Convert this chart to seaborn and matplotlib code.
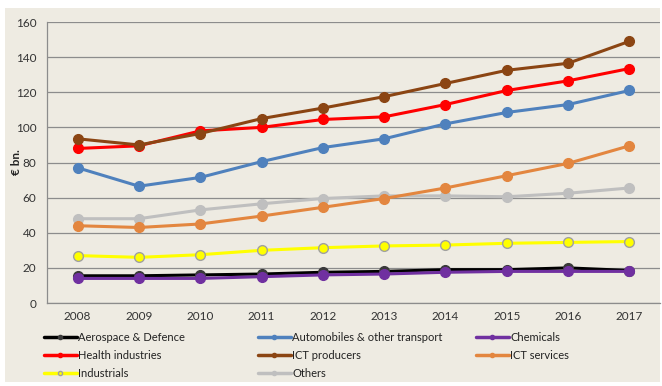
import matplotlib
matplotlib.use("Agg")
import matplotlib.pyplot as plt
import seaborn as sns
import pandas as pd
from matplotlib.lines import Line2D
from matplotlib.patches import Rectangle

years = ["2008", "2009", "2010", "2011", "2012", "2013", "2014", "2015", "2016", "2017"]
aerospace = [15.5, 15.5, 16, 16.5, 17.5, 18, 19, 19, 20, 18.5]
automobiles = [77, 66.5, 71.5, 80.5, 88.5, 93.5, 102, 108.5, 113, 121]
chemicals = [14, 14, 14, 15, 16, 16.5, 17.5, 18, 18, 18]
health = [88, 89.5, 98, 100, 104.5, 106, 113, 121, 126.5, 133.5]
ict_producers = [93.5, 90, 96.5, 105, 111, 117.5, 125, 132.5, 136.5, 149]
ict_services = [44, 43, 45, 49.5, 54.5, 59.5, 65.5, 72.5, 79.5, 89.5]
industrials = [27, 26, 27.5, 30, 31.5, 32.5, 33, 34, 34.5, 35]
others = [48, 48, 53, 56.5, 59.5, 61, 61, 60.5, 62.5, 65.5]

series = [
    ("Aerospace & Defence", aerospace, "#000000", "#3a3a3a"),
    ("Automobiles & other transport", automobiles, "#4f81bd", "#4f81bd"),
    ("Chemicals", chemicals, "#7030a0", "#7030a0"),
    ("Health industries", health, "#ff0000", "#ff0000"),
    ("ICT producers", ict_producers, "#8b4513", "#8b4513"),
    ("ICT services", ict_services, "#e3863f", "#e3863f"),
    ("Industrials", industrials, "#ffff00", "#ffff00"),
    ("Others", others, "#bfbfbf", "#bfbfbf"),
]
edge = {"Industrials": "#a0a0a0"}

bg = "#eeebe2"
sns.set_theme(style="white")
plt.rcParams["font.family"] = ["Lato", "DejaVu Sans"]

fig = plt.figure(figsize=(6.62, 3.86), dpi=100, facecolor="white")
fig.add_artist(Rectangle((5 / 662, 4 / 386), 655 / 662, 374 / 386,
                         transform=fig.transFigure, facecolor=bg,
                         edgecolor="none", zorder=-10))
ax = fig.add_axes([0.071, 0.215, 0.926, 0.728])
ax.set_facecolor(bg)

x = list(range(len(years)))
handles = {}
order = ["Others", "ICT services", "Industrials", "Automobiles & other transport",
         "Health industries", "ICT producers", "Aerospace & Defence", "Chemicals"]
sdict = {s[0]: s for s in series}
for name in order:
    _, vals, lc, mc = sdict[name]
    df = pd.DataFrame({"x": x, "y": vals})
    sns.lineplot(data=df, x="x", y="y", ax=ax, color=lc, linewidth=2.2,
                 marker="o", markersize=7, markerfacecolor=mc,
                 markeredgecolor=edge.get(name, mc), markeredgewidth=1.0,
                 zorder=3)

for name, vals, lc, mc in series:
    handles[name] = Line2D([0], [0], color=lc, linewidth=2.5, marker="o",
                           markersize=3, markerfacecolor=mc,
                           markeredgecolor=edge.get(name, mc))

ax.set_xlim(-0.5, 9.5)
ax.set_ylim(0, 160)
ax.set_yticks(range(0, 161, 20))
ax.set_xticks(x)
ax.set_xticklabels(years)
ax.set_xticks([i + 0.5 for i in range(-1, 10)], minor=True)
ax.tick_params(axis="x", which="major", length=0, labelsize=8.5, colors="#333333", pad=6)
ax.tick_params(axis="x", which="minor", length=4, color="#8c8c8c", direction="out", width=0.8)
ax.tick_params(axis="y", labelsize=8.5, colors="#333333", length=4, color="#8c8c8c", width=0.8)
ax.grid(axis="y", color="#8c8c8c", linewidth=0.9, zorder=0)
ax.set_axisbelow(True)
for s in ["top", "right"]:
    ax.spines[s].set_visible(False)
for s in ["left", "bottom"]:
    ax.spines[s].set_color("#8c8c8c")
    ax.spines[s].set_linewidth(0.9)
ax.set_xlabel("")
ax.set_ylabel("€ bn.", fontsize=8.5, fontweight="bold", color="#222222")
ax.yaxis.set_label_coords(-25 / 613, 0.5)

cols = [["Aerospace & Defence", "Health industries", "Industrials"],
        ["Automobiles & other transport", "ICT producers", "Others"],
        ["Chemicals", "ICT services"]]
xs = [41, 255, 473]
for cx, names in zip(xs, cols):
    leg = fig.legend([handles[n] for n in names], names, ncol=1,
                     loc="upper left", bbox_to_anchor=(cx / 662, 1 - 329 / 386),
                     frameon=False, fontsize=8, handlelength=2.9,
                     handletextpad=0.15, labelspacing=0.6,
                     borderaxespad=0, borderpad=0.3)
    for t in leg.get_texts():
        t.set_color("#222222")

fig.savefig("out.png", dpi=100, facecolor="white")
